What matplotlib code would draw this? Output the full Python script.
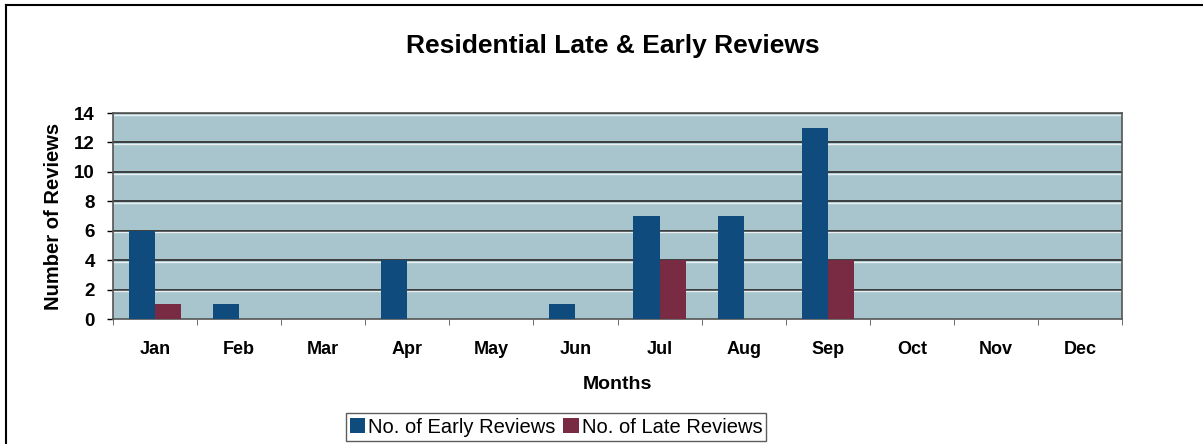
import numpy as np
import matplotlib
matplotlib.use("Agg")
import matplotlib.pyplot as plt
from matplotlib.lines import Line2D

months = ["Jan", "Feb", "Mar", "Apr", "May", "Jun", "Jul", "Aug", "Sep", "Oct", "Nov", "Dec"]
early = [6, 1, 0, 4, 0, 1, 7, 7, 13, 0, 0, 0]
late = [1, 0, 0, 0, 0, 0, 4, 0, 4, 0, 0, 0]
yticks = [0, 2, 4, 6, 8, 10, 12, 14]

plt.rcParams['font.family'] = ['Liberation Sans', 'DejaVu Sans']

fig = plt.figure(figsize=(12.03, 4.44), dpi=100)
ax = fig.add_axes([113 / 1203, 1 - 319 / 444, 1009 / 1203, 206 / 444])

x = np.arange(len(months))
w = 0.31
ax.set_facecolor("#a8c4cc")
ax.bar(x - w / 2, early, w, color="#0f4c7d", label="No. of Early Reviews", zorder=3)
ax.bar(x + w / 2, late, w, color="#7a2b44", label="No. of Late Reviews", zorder=3)

ax.set_xlim(-0.5, 11.5)
ax.set_ylim(0, 14)
ax.set_yticks(yticks)
ax.set_xticks(x)
ax.set_xticklabels(months, fontsize=13, fontweight="bold")
ax.tick_params(axis="y", labelsize=13.5, length=4, width=1, pad=9)
for lbl in ax.get_yticklabels():
    lbl.set_fontweight("bold")
ax.tick_params(axis="x", length=0, pad=16)
ax.set_xticks(np.arange(-0.5, 12, 1), minor=True)
ax.tick_params(axis="x", which="minor", length=4, color="#555555")

for v in yticks[1:]:
    ax.axhline(v, color="#333333", lw=1.3, zorder=1)
    ax.axhline(v - 0.12, color="#e8f0f2", lw=1.0, zorder=1)

for s in ax.spines.values():
    s.set_color("#555555")
    s.set_linewidth(1.2)

ax.set_xlabel("Months", fontsize=14, fontweight="bold", labelpad=13)
ax.set_ylabel("Number of Reviews", fontsize=14.5, fontweight="bold", labelpad=8)
fig.text(613 / 1203, 1 - 46 / 444, "Residential Late & Early Reviews", ha="center", va="center",
         fontsize=19, fontweight="bold")

leg = fig.legend(loc="center", bbox_to_anchor=(556 / 1203, 1 - 427 / 444), ncol=2,
                 fontsize=14.5, frameon=True, fancybox=False, edgecolor="#333333",
                 handlelength=0.75, handleheight=0.8, handletextpad=0.15,
                 columnspacing=0.4, borderpad=0.2)
leg.get_frame().set_linewidth(1.0)

# scanned page border (left and top edges)
fig.add_artist(Line2D([6 / 1203, 6 / 1203], [0, 1 - 5 / 444], transform=fig.transFigure,
                      color="black", lw=1.5))
fig.add_artist(Line2D([6 / 1203, 1], [1 - 5 / 444, 1 - 5 / 444], transform=fig.transFigure,
                      color="black", lw=1.5))

fig.savefig("out.png", dpi=100)
